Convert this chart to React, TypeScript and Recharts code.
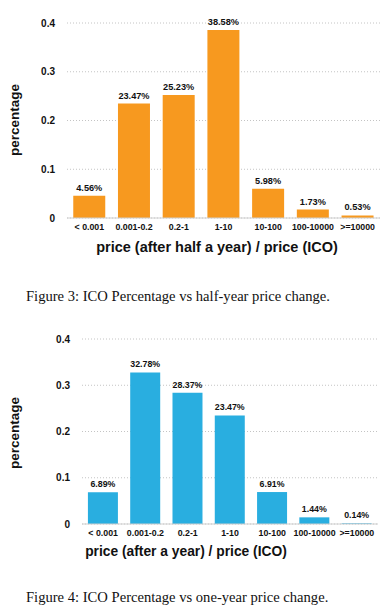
import { BarChart, Bar, XAxis, YAxis, CartesianGrid, LabelList, Label } from "recharts";

const categories = ["< 0.001", "0.001-0.2", "0.2-1", "1-10", "10-100", "100-10000", ">=10000"];
const halfYearValues = [0.0456, 0.2347, 0.2523, 0.3858, 0.0598, 0.0173, 0.0053];
const oneYearValues = [0.0689, 0.3278, 0.2837, 0.2347, 0.0691, 0.0144, 0.0014];
const yTicks = [0, 0.1, 0.2, 0.3, 0.4];

const SANS = "'Liberation Sans', Arial, Helvetica, sans-serif";
const SERIF = "'Liberation Serif', 'Times New Roman', serif";

const fmtPct = (v: any) => `${(Number(v) * 100).toFixed(2)}%`;
const fmtTick = (v: number) => (v === 0 ? "0" : String(v));

type PanelProps = {
  values: number[];
  color: string;
  top: number;
  height: number;
  marginTop: number;
  yAxisWidth: number;
  marginRight: number;
  xAxisHeight: number;
  title: string;
  titleX: number;
  titleDy: number;
  titleSize: number;
  yLabelY: number;
  labelSize: number;
};

function Panel(p: PanelProps) {
  const data = categories.map((name, i) => ({ name, value: p.values[i] }));
  return (
    <div style={{ position: "absolute", left: 0, top: p.top }}>
      <BarChart
        width={387}
        height={p.height}
        data={data}
        margin={{ top: p.marginTop, right: p.marginRight, left: 0, bottom: 0 }}
        barCategoryGap="14%"
      >
        <CartesianGrid horizontal vertical={false} stroke="#c4c4c4" strokeDasharray="1 2" />
        <XAxis
          dataKey="name"
          interval={0}
          height={p.xAxisHeight}
          tickSize={0}
          tickMargin={6}
          axisLine={{ stroke: "#cfcfcf" }}
          tickLine={false}
          tick={{ fontSize: 8.8, fontWeight: 700, fill: "#111", fontFamily: SANS }}
        >
          <Label
            content={(props: any) => {
              const vb = props.viewBox || {};
              return (
                <text
                  x={p.titleX}
                  y={vb.y + p.titleDy}
                  textAnchor="middle"
                  fontFamily={SANS}
                  fontWeight={700}
                  fontSize={p.titleSize}
                  fill="#111"
                >
                  {p.title}
                </text>
              );
            }}
          />
        </XAxis>
        <YAxis
          width={p.yAxisWidth}
          domain={[0, 0.4]}
          ticks={yTicks}
          tickFormatter={fmtTick}
          axisLine={false}
          tickLine={false}
          tickSize={0}
          tickMargin={12}
          tick={{ fontSize: 10, fontWeight: 700, fill: "#111", fontFamily: SANS }}
        >
          <Label
            content={() => (
              <text
                x={0}
                y={0}
                transform={`translate(19, ${p.yLabelY}) rotate(-90)`}
                textAnchor="middle"
                fontFamily={SANS}
                fontWeight={700}
                fontSize={13.5}
                fill="#111"
              >
                percentage
              </text>
            )}
          />
        </YAxis>
        <Bar dataKey="value" fill={p.color} isAnimationActive={false}>
          <LabelList
            dataKey="value"
            position="top"
            offset={5}
            formatter={fmtPct}
            style={{ fontSize: p.labelSize, fontWeight: 700, fill: "#111", fontFamily: SANS }}
          />
        </Bar>
      </BarChart>
    </div>
  );
}

const captionStyle = {
  position: "absolute" as const,
  left: 26,
  fontFamily: SERIF,
  fontSize: 14.6,
  color: "#111",
  whiteSpace: "nowrap" as const,
};

export default function App() {
  return (
    <div
      style={{
        position: "absolute",
        left: 0,
        top: 0,
        width: 387,
        height: 615,
        background: "#fff",
        overflow: "hidden",
      }}
    >
      <Panel
        values={halfYearValues}
        color="#F7991F"
        top={0}
        height={260}
        marginTop={23}
        yAxisWidth={67}
        marginRight={7}
        xAxisHeight={42}
        title="price (after half a year) / price (ICO)"
        titleX={217}
        titleDy={34}
        titleSize={14.5}
        yLabelY={120}
        labelSize={9.2}
      />
      <div style={{ ...captionStyle, top: 288 }}>
        Figure 3: ICO Percentage vs half-year price change.
      </div>
      <Panel
        values={oneYearValues}
        color="#29AEE0"
        top={310}
        height={254}
        marginTop={29}
        yAxisWidth={82}
        marginRight={9}
        xAxisHeight={40}
        title="price (after a year) / price (ICO)"
        titleX={186}
        titleDy={32}
        titleSize={13.8}
        yLabelY={123}
        labelSize={8.8}
      />
      <div style={{ ...captionStyle, top: 589 }}>
        Figure 4: ICO Percentage vs one-year price change.
      </div>
    </div>
  );
}
